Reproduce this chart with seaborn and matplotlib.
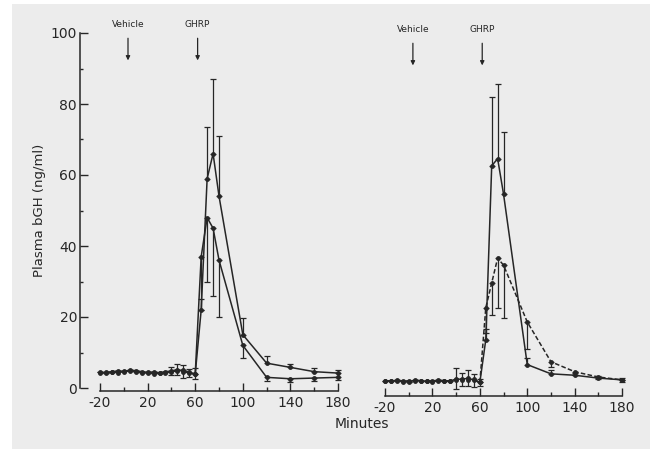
import matplotlib
matplotlib.use("Agg")
import matplotlib.pyplot as plt
from matplotlib.patches import Rectangle
import numpy as np
import pandas as pd
import seaborn as sns

# ---------------- data ----------------
time_base = [-20, -15, -10, -5, 0, 5, 10, 15, 20, 25, 30, 35, 40, 45, 50, 55]
time_resp = [60, 65, 70, 75, 80, 100, 120, 140, 160, 180]

# left panel
left_a_base = [4.5, 4.3, 4.6, 4.8, 4.7, 5.0, 4.9, 4.6, 4.4, 4.5, 4.3, 4.6, 4.8, 5.2, 4.6, 4.2]
left_b_base = [4.2, 4.4, 4.5, 4.3, 4.6, 4.8, 4.5, 4.3, 4.2, 4.0, 4.1, 4.3, 4.5, 4.9, 5.1, 4.4]
left_a_resp = [4.0, 22, 59, 66, 54, 15, 7.0, 5.8, 4.6, 4.2]
left_b_resp = [4.0, 37, 48, 45, 36, 12, 3.0, 2.6, 2.8, 3.0]
left_a_err_up = [1.5, 3, 14.5, 21, 17, 4.7, 2.0, 1.0, 1.0, 1.0]
left_b_err_dn = [1.5, 15, 18, 19, 16, 3.5, 1.0, 0.8, 0.8, 0.8]
left_base_err = [0, 0, 0, 0, 0, 0, 0, 0, 0, 0, 0, 0, 1.2, 1.5, 1.8, 1.2]

# right panel
right_c_base = [3.5, 3.3, 3.6, 3.4, 3.2, 3.6, 3.5, 3.3, 3.4, 3.6, 3.5, 3.3, 4.0, 3.8, 4.2, 3.6]
right_d_base = [3.3, 3.5, 3.4, 3.2, 3.5, 3.3, 3.4, 3.5, 3.2, 3.4, 3.3, 3.5, 3.6, 4.0, 3.8, 3.9]
right_c_resp = [3.0, 15, 64, 66, 56, 8.0, 5.4, 5.0, 4.2, 3.7]
right_d_resp = [3.0, 24, 31, 38, 36, 20, 8.8, 6.0, 4.5, 3.7]
right_c_err_up = [1.0, 3, 19.5, 21, 17.5, 2.0, 1.0, 0.6, 0.6, 0.6]
right_d_err_dn = [1.0, 7, 9, 14, 15, 7.5, 1.5, 1.0, 0.6, 0.6]
right_base_err = [0, 0, 0, 0, 0, 0, 0, 0, 0, 0, 0, 0, 3.0, 1.8, 2.2, 1.8]

x_ticks = [-20, 20, 60, 100, 140, 180]
x_minor = [0, 40, 80, 120, 160]
y_ticks = [0, 20, 40, 60, 80, 100]
y_minor = [10, 30, 50, 70, 90]
vehicle_t = 3.5
ghrp_t = 62

# ---------------- style ----------------
sns.set_theme(style="ticks")
plt.rcParams["font.family"] = ["DejaVu Sans"]
plt.rcParams["axes.unicode_minus"] = False
ink = "#262626"
W, H = 661, 449

fig = plt.figure(figsize=(W / 100, H / 100), dpi=100, facecolor="white")
fig.patches.append(Rectangle((12 / W, 0), (650 - 12) / W, (H - 4) / H,
                             transform=fig.transFigure, facecolor="#ececec",
                             edgecolor="none", zorder=-10))

ax1 = fig.add_axes([79.8 / W, (H - 395.1) / H, 264.2 / W, 372.75 / H])
ax2 = fig.add_axes([364.9 / W, (H - 400.1) / H, 263.1 / W, 372.75 / H])


def draw_series(ax, t, v, ls="-"):
    df = pd.DataFrame({"t": t, "v": v})
    sns.lineplot(data=df, x="t", y="v", ax=ax, color=ink, linewidth=1.1,
                 linestyle=ls, marker="o", markersize=3.5, markeredgewidth=0,
                 sort=False, errorbar=None)


def draw_err(ax, t, v, lo, hi):
    ax.errorbar(t, v, yerr=[lo, hi], fmt="none", ecolor=ink, elinewidth=0.9,
                capsize=2.5, capthick=0.9, clip_on=False)


tall = time_base + time_resp
# left panel
draw_series(ax1, tall, left_a_base + left_a_resp)
draw_series(ax1, tall, left_b_base + left_b_resp)
draw_err(ax1, time_resp, left_a_resp, [0] * len(time_resp), left_a_err_up)
draw_err(ax1, time_resp, left_b_resp, left_b_err_dn, [0] * len(time_resp))
draw_err(ax1, time_base, left_a_base, left_base_err, left_base_err)

# right panel
draw_series(ax2, tall, right_c_base + right_c_resp)
draw_series(ax2, tall, right_d_base + right_d_resp, ls=(0, (3, 1.5)))
draw_err(ax2, time_resp, right_c_resp, [0] * len(time_resp), right_c_err_up)
draw_err(ax2, time_resp, right_d_resp, right_d_err_dn, [0] * len(time_resp))
draw_err(ax2, time_base, right_c_base, right_base_err, right_base_err)

for ax in (ax1, ax2):
    ax.set_facecolor("none")
    ax.set_xlim(-37, 185)
    ax.set_ylim(-2, 103)
    ax.set_xlabel("")
    ax.set_ylabel("")
    ax.spines["top"].set_visible(False)
    ax.spines["right"].set_visible(False)
    ax.spines["bottom"].set_position(("data", -0.8))
    ax.spines["bottom"].set_bounds(-20, 180)
    ax.spines["bottom"].set_color(ink)
    ax.spines["bottom"].set_linewidth(1.1)
    ax.set_xticks(x_ticks)
    ax.set_xticks(x_minor, minor=True)
    ax.tick_params(axis="x", which="major", direction="in", length=6, width=1,
                   pad=4, labelsize=10, colors=ink)
    ax.tick_params(axis="x", which="minor", direction="in", length=3, width=1,
                   colors=ink)
    for t, lab in ((vehicle_t, "Vehicle"), (ghrp_t, "GHRP")):
        ax.annotate("", xy=(t, 91.5), xytext=(t, 99.3),
                    arrowprops=dict(arrowstyle="-|>", color=ink, lw=0.9,
                                    mutation_scale=6), annotation_clip=False)
        ax.text(t, 102.3, lab, ha="center", va="center", fontsize=6.5,
                color=ink, clip_on=False)

ax1.spines["left"].set_bounds(0, 100)
ax1.spines["left"].set_color(ink)
ax1.spines["left"].set_linewidth(1.1)
ax1.set_yticks(y_ticks)
ax1.set_yticks(y_minor, minor=True)
ax1.tick_params(axis="y", which="major", direction="in", length=6, width=1,
                pad=2, labelsize=10, colors=ink)
ax1.tick_params(axis="y", which="minor", direction="in", length=2.5, width=1,
                colors=ink)

ax2.spines["left"].set_visible(False)
ax2.set_yticks([])

fig.text(40 / W, 1 - 210 / H, "Plasma bGH (ng/ml)", rotation=90, ha="center",
         va="center", fontsize=9.5, color=ink)
fig.text(362 / W, 1 - 424 / H, "Minutes", ha="center", va="center",
         fontsize=10, color=ink)

fig.savefig("out.png", dpi=100, facecolor=fig.get_facecolor())
